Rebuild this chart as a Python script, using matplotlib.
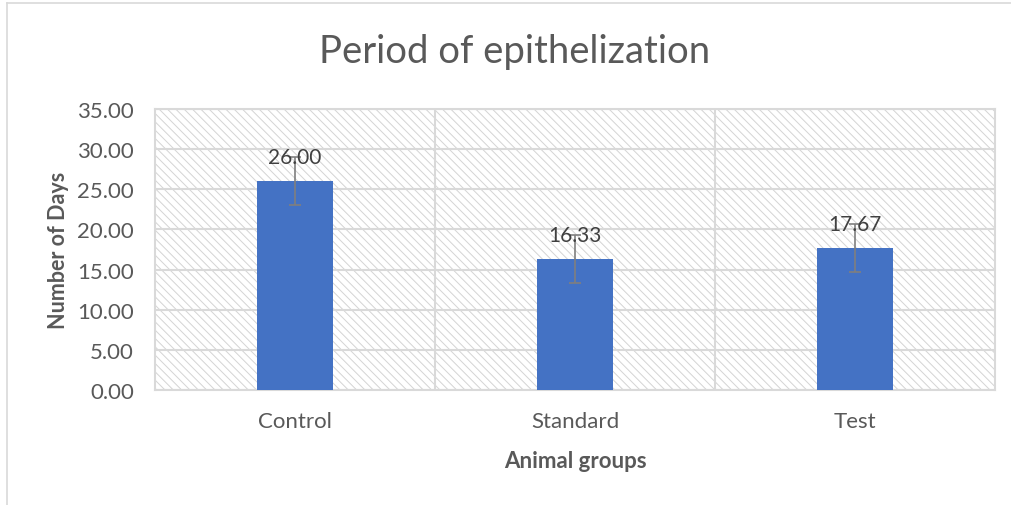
import matplotlib
matplotlib.use('Agg')
import matplotlib.pyplot as plt
from matplotlib.patches import Rectangle
from matplotlib.lines import Line2D

groups = ['Control', 'Standard', 'Test']
days = [26.00, 16.33, 17.67]
errors = [3.0, 3.0, 3.0]
yticks = [0, 5, 10, 15, 20, 25, 30, 35]

plt.rcParams['font.family'] = ['Lato', 'DejaVu Sans']
plt.rcParams['hatch.linewidth'] = 0.7
grid_col = '#d9d9d9'
text_col = '#595959'

fig = plt.figure(figsize=(10.12, 5.06), dpi=100)
ax = fig.add_axes([155 / 1012, 1 - 391 / 506, 840 / 1012, 281 / 506])

# hatched plot area background
bg = Rectangle((0, 0), 1, 1, transform=ax.transAxes, facecolor='white',
               edgecolor='#d4d4d4', hatch='\\\\\\\\', linewidth=0, zorder=0)
ax.add_patch(bg)
ax.patch.set_visible(False)

x = list(range(len(groups)))
ax.bar(x, days, width=0.27, color='#4472C4', zorder=3)
ax.errorbar(x, days, yerr=errors, fmt='none', ecolor='#7f7f7f',
            elinewidth=1.2, capsize=4.5, capthick=1.2, zorder=4)

for xi, v in zip(x, days):
    ax.annotate(f'{v:.2f}', (xi, v), xytext=(0, 10), textcoords='offset points',
                ha='center', va='bottom', fontsize=15, color='#404040', zorder=5)

ax.set_xlim(-0.5, 2.5)
ax.set_ylim(0, 35)
ax.set_yticks(yticks)
ax.set_yticklabels([f'{t:.2f}' for t in yticks])
ax.set_xticks(x)
ax.set_xticklabels(groups)

# horizontal gridlines and category separators
for t in yticks:
    ax.axhline(t, color=grid_col, lw=1.5, zorder=1)
for b in [0.5, 1.5]:
    ax.axvline(b, color=grid_col, lw=1.5, zorder=1)

for s in ax.spines.values():
    s.set_color(grid_col)
    s.set_linewidth(1.5)
ax.tick_params(length=0, labelsize=16, labelcolor=text_col)
ax.tick_params(axis='y', pad=15)
ax.tick_params(axis='x', pad=15)

ax.set_ylabel('Number of Days', fontsize=15.5, fontweight='bold', color=text_col, labelpad=6)
ax.set_xlabel('Animal groups', fontsize=16, fontweight='bold', color=text_col, labelpad=14)
fig.text(515 / 1012, 1 - 52 / 506, 'Period of epithelization', fontsize=27.5,
         color=text_col, ha='center', va='center')

# chart border
fig.add_artist(Line2D([7 / 1012, 1], [1 - 4 / 506, 1 - 4 / 506], color=grid_col, lw=1.2))
fig.add_artist(Line2D([7 / 1012, 7 / 1012], [0, 1 - 4 / 506], color=grid_col, lw=1.2))

fig.savefig('out.png', dpi=100)
